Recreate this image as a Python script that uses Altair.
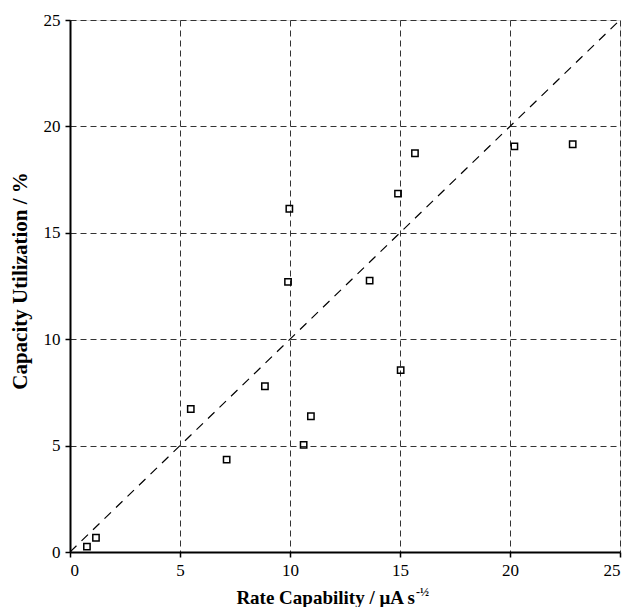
import altair as alt
import pandas as pd

rate_capability = [0.77, 1.18, 5.49, 7.12, 8.86, 9.91, 9.97, 10.62, 10.95,
                   13.62, 14.91, 15.03, 15.68, 20.2, 22.85]
capacity_util = [0.25, 0.67, 6.72, 4.34, 7.79, 12.69, 16.13, 5.03, 6.38,
                 12.75, 16.84, 8.55, 18.74, 19.06, 19.16]
diag_x = [0, 25]
diag_y = [0, 25]
ticks = [0, 5, 10, 15, 20, 25]

pts = pd.DataFrame({"x": rate_capability, "y": capacity_util})
diag = pd.DataFrame({"x": diag_x, "y": diag_y})
one = pd.DataFrame({"a": [0]})

FONT = "Liberation Serif"
xs = alt.Scale(domain=[0, 25], nice=False, zero=True)
ys = alt.Scale(domain=[0, 25], nice=False, zero=True)

x_axis = alt.Axis(values=ticks, title=None, grid=True, gridDash=[6, 4], gridColor="#333",
                  gridWidth=1, domainColor="black", domainWidth=2, tickColor="black",
                  tickSize=5, tickWidth=1.5, labelFont=FONT, labelFontSize=17,
                  labelColor="black", labelPadding=5)
y_axis = alt.Axis(values=ticks, title=None, grid=True, gridDash=[6, 4], gridColor="#333",
                  gridWidth=1, domainColor="black", domainWidth=2, tickColor="black",
                  tickSize=5, tickWidth=1.5, labelFont=FONT, labelFontSize=17,
                  labelColor="black", labelPadding=5)

line = alt.Chart(diag).mark_line(color="black", strokeDash=[9, 7], strokeWidth=1.2, clip=True).encode(
    x=alt.X("x:Q", scale=xs, axis=x_axis),
    y=alt.Y("y:Q", scale=ys, axis=y_axis),
)

points = alt.Chart(pts).mark_point(shape="square", size=40, filled=False, color="black",
                                   strokeWidth=1.5, opacity=1).encode(
    x=alt.X("x:Q", scale=xs),
    y=alt.Y("y:Q", scale=ys),
)

xt_main = alt.Chart(one).mark_text(font=FONT, fontSize=19, fontWeight="bold", align="right",
                                   baseline="alphabetic", color="black").encode(
    x=alt.value(345), y=alt.value(584), text=alt.value("Rate Capability / μA s"))
xt_sup = alt.Chart(one).mark_text(font=FONT, fontSize=12, fontWeight="bold", align="left",
                                  baseline="alphabetic", color="black").encode(
    x=alt.value(346), y=alt.value(576), text=alt.value("-½"))
yt = alt.Chart(one).mark_text(font=FONT, fontSize=21, fontWeight="bold", align="center",
                              baseline="middle", angle=270, color="black").encode(
    x=alt.value(-49), y=alt.value(261), text=alt.value("Capacity Utilization / %"))

chart = alt.layer(line, points, xt_main, xt_sup, yt).properties(
    width=550, height=532,
    autosize=alt.AutoSizeParams(type="none"),
    padding={"left": 70, "top": 20, "right": 10, "bottom": 55},
).configure_view(stroke="black", strokeWidth=1).configure(background="white")

chart.save("out.html", embed_options={"renderer": "svg", "actions": False})
